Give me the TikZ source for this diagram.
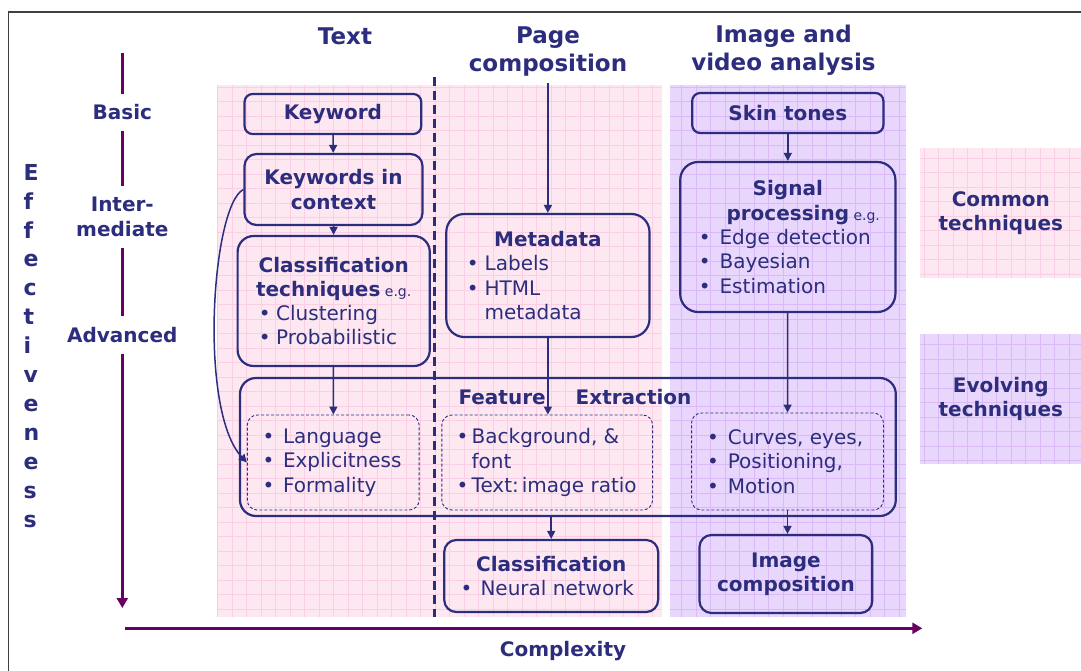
\documentclass[tikz,border=0pt]{standalone}
\usepackage{fontspec}
\setmainfont{DejaVu Sans}
\usepackage{xcolor}
\usepackage{tikz}
\usetikzlibrary{arrows.meta,positioning}
\definecolor{navy}{RGB}{44,45,125}
\definecolor{plum}{RGB}{104,0,100}
\definecolor{pinkbg}{RGB}{253,232,242}
\definecolor{pinkln}{RGB}{250,206,228}
\definecolor{lilacbg}{RGB}{233,214,252}
\definecolor{lilacln}{RGB}{217,186,247}
\newcommand{\hdrf}{\fontsize{23}{28}\selectfont\bfseries}
\newcommand{\boxf}{\fontsize{20}{24.3}\selectfont\bfseries}
\newcommand{\eg}{{\fontsize{14}{14}\selectfont\mdseries\ e.g.}}
\newcommand{\itm}[3][6pt]{\makebox[#2][l]{\mdseries\textbullet\hspace{#1}#3}}
\newcommand{\ctd}[3][6pt]{\makebox[#2][l]{\mdseries\phantom{\textbullet}\hspace{#1}#3}}

\begin{document}
\begin{tikzpicture}[x=1pt,y=-1pt,
  box/.style={draw=navy,line width=2.2pt,rounded corners=8pt,align=center,font=\boxf,text=navy,inner sep=0pt},
  dbox/.style={draw=navy,line width=0.9pt,dash pattern=on 3pt off 2pt,rounded corners=10pt,align=center,font=\boxf,text=navy,inner sep=0pt},
  hdr/.style={font=\hdrf,text=navy,align=center,inner sep=0pt},
  side/.style={font=\boxf,text=navy,align=center,inner sep=0pt},
  legend/.style={side,minimum width=160.8,minimum height=130,anchor=north west},
  arr/.style={navy,line width=1.5pt,-{Triangle[length=8pt,width=8pt]}},
  axis/.style={plum,line width=3.6pt},
  axarr/.style={axis,-{Triangle[length=10pt,width=11pt]}},
  pinkpane/.style={fill=pinkbg,path picture={\draw[pinkln,line width=0.6pt,step=14.5pt] (path picture bounding box.south west) grid (path picture bounding box.north east);}},
  lilacpane/.style={fill=lilacbg,path picture={\draw[lilacln,line width=0.6pt,step=14.5pt] (path picture bounding box.south west) grid (path picture bounding box.north east);}}]
  \useasboundingbox (0,0) rectangle (1081,671);
  \path[pinkpane] (217,85) rectangle (661.6,617);
  \path[lilacpane] (669.8,85) rectangle (906.1,617);
  \draw[black!75,line width=1.2pt] (8.3,671) -- (8.3,12) -- (1081,12);
  \draw[navy,line width=2.4pt,dash pattern=on 9pt off 5pt] (434.6,77) -- (434.6,617);

  \node[hdr] (htext) at (345,36) {Text};
  \node[hdr] (hpage) at (548,52) {Page\\composition};
  \node[hdr] (himg) at (783.5,50) {Image and\\video analysis};

  \node[font=\fontsize{22}{28.9}\selectfont\bfseries,text=navy,align=left,inner sep=0pt,anchor=north west] (eff) at (23.4,164) {E\\f\\f\\e\\c\\t\\i\\v\\e\\n\\e\\s\\s};
  \node[side,minimum height=37] (basic) at (122.3,112.5) {Basic};
  \node[side,minimum height=61] (inter) at (122.3,217) {Inter-\\mediate};
  \node[side,minimum height=37] (adv) at (122.3,335) {Advanced};
  \coordinate (ytop) at (122.3,53);
  \coordinate (ybot) at (122.3,608);
  \coordinate (xleft) at (124.7,628.3);
  \coordinate (xright) at (922.3,628.3);
  \draw[axis] (ytop) -- (basic);
  \draw[axis] (basic) -- (inter);
  \draw[axis] (inter) -- (adv);
  \draw[axarr] (adv) -- (ybot);
  \draw[axarr] (xleft) -- (xright);
  \node[side] (cplx) at (563,651) {Complexity};

  \node[box,minimum width=176.7,minimum height=40] (kw) at (332.9,114) {Keyword};
  \node[box,minimum width=178,minimum height=71,rounded corners=12pt] (kic) at (333.5,189.5) {Keywords in\\context};
  \node[box,minimum width=192.2,minimum height=130,rounded corners=16pt] (ctech) at (333.7,301) {Classification\\techniques\eg\\\itm[5.5pt]{149.6pt}{Clustering}\\\itm[5.5pt]{149.6pt}{Probabilistic}};
  \node[box,minimum width=203.2,minimum height=123,rounded corners=18pt] (meta) at (547.9,275.5) {Metadata\\\itm{162pt}{Labels}\\\itm{162pt}{HTML}\\\ctd{162pt}{metadata}};
  \node[box,minimum width=191.2,minimum height=40] (skin) at (787.8,113) {Skin tones};
  \node[box,minimum width=215.2,minimum height=150,rounded corners=18pt] (sig) at (787.8,237) {Signal\\processing\rlap{\eg}\\\itm[9pt]{178pt}{Edge detection}\\\itm[9pt]{178pt}{Bayesian}\\\itm[9pt]{178pt}{Estimation}};

  \node[box,minimum width=655.8,minimum height=138,rounded corners=16pt] (fe) at (567.9,447) {};
  \node[side] (fetitle) at (575,397) {Feature\hspace{30pt}Extraction};
  \node[dbox,minimum width=171.8,minimum height=95] (tdash) at (333.2,462.5) {\itm[8.5pt]{141pt}{Language}\\\itm[8.5pt]{141pt}{Explicitness}\\\itm[8.5pt]{141pt}{Formality}};
  \node[dbox,minimum width=210.8,minimum height=95] (pdash) at (547.2,462.5) {\itm[3.4pt]{181.4pt}{Background, \&}\\\ctd[3.4pt]{181.4pt}{font}\\\itm[3.4pt]{181.4pt}{Text:\hspace{3pt}image ratio}};
  \node[dbox,minimum width=191.9,minimum height=97] (idash) at (787.5,461.5) {\itm[9pt]{161pt}{Curves, eyes,}\\\itm[9pt]{161pt}{Positioning,}\\\itm[9pt]{161pt}{Motion}};

  \node[box,minimum width=213.9,minimum height=72,rounded corners=12pt] (cls) at (551.2,576) {Classification\\\itm[8pt]{181pt}{Neural network}};
  \node[box,minimum width=172.8,minimum height=78,rounded corners=12pt] (icomp) at (785.9,574) {Image\\composition};

  \node[legend,pinkpane] (common) at (920.2,148) {Common\\techniques};
  \node[legend,lilacpane] (evolve) at (920.2,334) {Evolving\\techniques};

  \draw[arr] (kw) -- (kic);
  \draw[arr] (kic) -- (ctech);
  \draw[arr] (ctech) -- (tdash);
  \draw[arr,shorten <=6pt] (hpage.south -| meta.north) -- (meta);
  \draw[arr] (meta.south) -- (meta.south |- pdash.north);
  \draw[arr] (skin) -- (sig);
  \draw[arr] (sig) -- (idash);
  \draw[arr] (fe.south -| cls.north) -- (cls);
  \draw[arr] (idash.south) -- (idash.south |- icomp.north);
  \draw[arr] (kic.west) .. controls (212,205) and (198,410) .. (tdash.west);
\end{tikzpicture}
\end{document}
